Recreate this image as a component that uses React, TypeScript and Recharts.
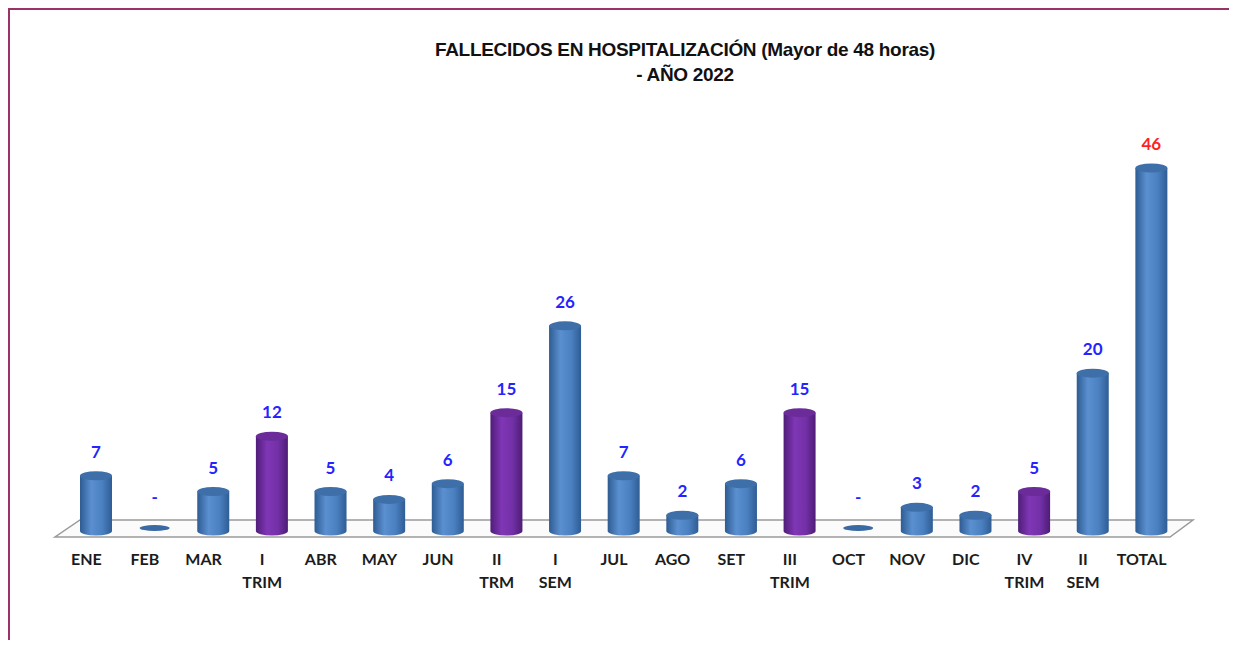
import React from "react";
import { BarChart, Bar, XAxis, YAxis, LabelList, ReferenceArea } from "recharts";

// categorías y valores
const CATEGORIES = [
  "ENE", "FEB", "MAR", "I\nTRIM", "ABR", "MAY", "JUN", "II\nTRM", "I\nSEM", "JUL",
  "AGO", "SET", "III\nTRIM", "OCT", "NOV", "DIC", "IV\nTRIM", "II\nSEM", "TOTAL",
];
const FALLECIDOS = [7, 0, 5, 12, 5, 4, 6, 15, 26, 7, 2, 6, 15, 0, 3, 2, 5, 20, 46];
const TRIMESTRES = ["I\nTRIM", "II\nTRM", "III\nTRIM", "IV\nTRIM"];
const TOTAL_LABEL = "TOTAL";

const data = CATEGORIES.map((name, i) => ({ name, value: FALLECIDOS[i] }));

const LABEL_FONT = "Lato, 'Open Sans', 'Liberation Sans', sans-serif";
const TITLE_FONT = "'Liberation Sans Narrow', 'Arial Narrow', 'Liberation Sans', Arial, sans-serif";

function Cylinder(props: any) {
  const { x, y, width, height, payload } = props;
  const purple = TRIMESTRES.includes(payload.name);
  const rx = width / 2;
  const ry = 4.5;
  const cx = x + rx;
  if (!height || height < 1) {
    return <ellipse cx={cx} cy={y - 3} rx={rx - 1} ry={3} fill="#3a6aa3" />;
  }
  const bottom = y + height;
  return (
    <g>
      <path
        d={`M${x},${y} L${x},${bottom} A${rx},${ry} 0 0 0 ${x + width},${bottom} L${x + width},${y} Z`}
        fill={`url(#${purple ? "gPurple" : "gBlue"})`}
      />
      <ellipse cx={cx} cy={y} rx={rx} ry={ry} fill={purple ? "#6b2c9a" : "#3e6fa9"} />
    </g>
  );
}

function Floor(props: any) {
  const { x, width, y, height } = props;
  const base = y + height;
  const back = base - 11;
  const front = base + 6;
  return (
    <polygon
      points={`${x + 13},${back} ${x + width + 12},${back} ${x + width - 11},${front} ${x - 12},${front}`}
      fill="#fbfbfb"
      stroke="#9a9a9a"
      strokeWidth={1.5}
    />
  );
}

function ValueLabel(props: any) {
  const { x, y, width, value, index } = props;
  const isTotal = CATEGORIES[index] === TOTAL_LABEL;
  return (
    <text
      x={x + width / 2}
      y={value === 0 ? y - 28 : y - 18}
      textAnchor="middle"
      fontFamily={LABEL_FONT}
      fontWeight={700}
      fontSize={17}
      fill={isTotal ? "#ff2222" : "#2424ff"}
    >
      {value === 0 ? "-" : value}
    </text>
  );
}

function CategoryTick(props: any) {
  const { x, y, payload } = props;
  const lines = String(payload.value).split("\n");
  return (
    <g>
      {lines.map((l, i) => (
        <text
          key={i}
          x={x - 10}
          y={y + 34 + i * 23}
          textAnchor="middle"
          fontFamily={LABEL_FONT}
          fontWeight={700}
          fontSize={16}
          fill="#1c1c1c"
        >
          {l}
        </text>
      ))}
    </g>
  );
}

export default function App() {
  return (
    <div style={{ position: "relative", width: 1237, height: 648, margin: -8, overflow: "hidden", background: "#fff" }}>
      <div
        style={{
          position: "absolute",
          left: 7,
          top: 7,
          width: 1224,
          height: 700,
          border: "3px solid #993366",
          boxSizing: "content-box",
        }}
      />
      <div
        style={{
          position: "absolute",
          left: 385,
          width: 600,
          top: 37,
          textAlign: "center",
          fontFamily: TITLE_FONT,
          fontWeight: 700,
          fontSize: 19,
          letterSpacing: -0.3,
          lineHeight: "25px",
          color: "#111",
        }}
      >
        FALLECIDOS EN HOSPITALIZACIÓN (Mayor de 48 horas)
        <br />- AÑO 2022
      </div>
      <div style={{ position: "absolute", left: 0, top: 0 }}>
        <BarChart
          width={1237}
          height={648}
          data={data}
          margin={{ top: 168, right: 56, bottom: 0, left: 67 }}
          barCategoryGap={0}
        >
          <defs>
            <linearGradient id="gBlue" x1="0" y1="0" x2="1" y2="0">
              <stop offset="0%" stopColor="#2e5c92" />
              <stop offset="35%" stopColor="#5a8fd0" />
              <stop offset="70%" stopColor="#4a7fc0" />
              <stop offset="100%" stopColor="#2f5d94" />
            </linearGradient>
            <linearGradient id="gPurple" x1="0" y1="0" x2="1" y2="0">
              <stop offset="0%" stopColor="#4f1d78" />
              <stop offset="35%" stopColor="#8036b6" />
              <stop offset="70%" stopColor="#7230a6" />
              <stop offset="100%" stopColor="#4e1c75" />
            </linearGradient>
          </defs>
          <XAxis
            dataKey="name"
            axisLine={false}
            tickLine={false}
            tickSize={0}
            tickMargin={0}
            height={117}
            interval={0}
            tick={<CategoryTick />}
          />
          <YAxis hide domain={[0, 46]} />
          <ReferenceArea y1={0} y2={1} ifOverflow="visible" shape={<Floor />} />
          <Bar dataKey="value" barSize={32} shape={<Cylinder />} isAnimationActive={false}>
            <LabelList dataKey="value" content={<ValueLabel />} />
          </Bar>
        </BarChart>
      </div>
    </div>
  );
}
